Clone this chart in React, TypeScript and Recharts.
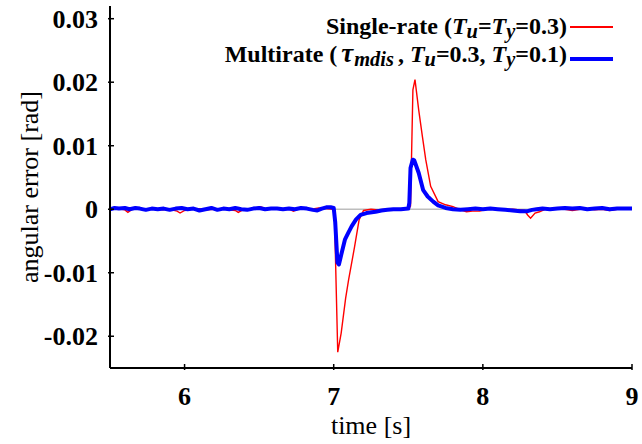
import React from 'react';
import { LineChart, Line, XAxis, YAxis, ReferenceLine } from 'recharts';

// time [s] and angular error [rad]
const singleTime = [
  5.5, 5.55, 5.6, 5.62, 5.65, 5.7, 5.75, 5.8, 5.85, 5.9, 5.95, 5.97, 6.0, 6.05, 6.1, 6.15, 6.2, 6.25, 6.3, 6.34,
  6.36, 6.39, 6.45, 6.51, 6.55, 6.6, 6.65, 6.7, 6.73, 6.76, 6.8, 6.85, 6.9, 6.95, 7.0, 7.005, 7.027, 7.05, 7.08,
  7.1, 7.14, 7.17, 7.2, 7.25, 7.3, 7.35, 7.4, 7.45, 7.5, 7.515, 7.531, 7.545, 7.57, 7.595, 7.617, 7.65, 7.7, 7.75,
  7.8, 7.85, 7.89, 7.93, 7.98, 8.02, 8.1, 8.15, 8.2, 8.25, 8.28, 8.3, 8.32, 8.35, 8.38, 8.42, 8.5, 8.55, 8.6, 8.65,
  8.7, 8.75, 8.8, 8.85, 8.9, 8.95, 9.0,
];
const singleError = [
  0.0, 0.0001, -0.0001, -0.0005, 0.0, 0.0001, 0.0, 0.0001, -0.0001, 0.0, -0.0003, -0.0006, -0.0002, 0.0, 0.0001,
  -0.0001, 0.0, 0.0001, -0.0001, -0.0002, -0.0005, -0.0001, 0.0, 0.0004, 0.0, 0.0001, -0.0001, 0.0, -0.0003, 0.0,
  0.0001, 0.0, 0.0002, 0.0001, 0.0, -0.001, -0.0225, -0.0195, -0.014, -0.0111, -0.0059, -0.0017, -0.0002, 0.0,
  -0.0001, 0.0, 0.0001, 0.0, 0.0, 0.0005, 0.0188, 0.0204, 0.0156, 0.0114, 0.0078, 0.0036, 0.0012, 0.0007, 0.0004,
  -0.0001, -0.0004, -0.0003, -0.0003, 0.0, 0.0, -0.0001, 0.0, -0.0001, -0.0002, -0.0009, -0.0014, -0.0006, -0.0004,
  0.0, 0.0001, 0.0, -0.0002, 0.0, 0.0001, -0.0001, 0.0, -0.0002, 0.0, 0.0001, 0.0,
];

const multiTime = [
  5.5, 5.53, 5.56, 5.6, 5.63, 5.67, 5.7, 5.74, 5.78, 5.82, 5.86, 5.9, 5.94, 5.98, 6.02, 6.06, 6.1, 6.14, 6.18, 6.22,
  6.26, 6.3, 6.34, 6.38, 6.42, 6.46, 6.5, 6.54, 6.58, 6.62, 6.66, 6.7, 6.74, 6.78, 6.82, 6.86, 6.89, 6.92, 6.95,
  6.98, 7.0, 7.01, 7.025, 7.035, 7.05, 7.075, 7.1, 7.12, 7.15, 7.18, 7.22, 7.28, 7.32, 7.36, 7.4, 7.45, 7.5, 7.507,
  7.515, 7.53, 7.54, 7.57, 7.6, 7.63, 7.667, 7.7, 7.75, 7.8, 7.85, 7.9, 7.95, 8.0, 8.05, 8.1, 8.15, 8.2, 8.25, 8.3,
  8.33, 8.36, 8.4, 8.45, 8.5, 8.55, 8.6, 8.65, 8.7, 8.75, 8.8, 8.85, 8.9, 8.95, 9.0,
];
const multiError = [
  0.0, 0.0002, 0.0001, 0.0002, 0.0, 0.0002, 0.0001, -0.0001, 0.0001, 0.0, 0.0001, -0.0001, 0.0001, 0.0002, 0.0,
  0.0001, -0.0002, 0.0, 0.0002, -0.0001, 0.0001, 0.0, 0.0002, 0.0, -0.0001, 0.0001, 0.0002, 0.0, 0.0001, 0.0001,
  0.0, 0.0001, 0.0, 0.0002, 0.0001, -0.0001, -0.0002, 0.0001, 0.0003, 0.0003, 0.0002, -0.002, -0.0084, -0.0087,
  -0.0072, -0.0048, -0.0036, -0.0027, -0.0016, -0.0009, -0.0006, -0.0004, -0.0002, -0.0001, 0.0, 0.0, 0.0001,
  0.001, 0.0065, 0.0078, 0.0077, 0.0057, 0.003, 0.002, 0.0012, 0.0006, 0.0002, 0.0, -0.0001, 0.0, 0.0001, 0.0,
  0.0001, 0.0, -0.0001, -0.0002, -0.0003, -0.0003, -0.0001, 0.0, 0.0001, 0.0, 0.0001, 0.0002, 0.0001, 0.0002, 0.0,
  0.0001, 0.0002, 0.0, 0.0001, 0.0001, 0.0001,
];

const timeTicks = [6, 7, 8, 9];
const errorTicks = [-0.02, -0.01, 0, 0.01, 0.02, 0.03];

const singleData = singleTime.map((t, i) => ({ t, v: singleError[i] }));
const multiData = multiTime.map((t, i) => ({ t, v: multiError[i] }));

const FONT = '"Liberation Serif", "Times New Roman", serif';
const TICK_LEN = 6;

function BottomTick({ x, y, payload }: any) {
  return (
    <g>
      <line x1={x} y1={y} x2={x} y2={y - TICK_LEN} stroke="#000" strokeWidth={1.5} />
      <text x={x} y={y + 35} textAnchor="middle" fontFamily={FONT} fontSize={26} fontWeight="bold" fill="#000">
        {payload.value}
      </text>
    </g>
  );
}

function LeftTick({ x, y, payload }: any) {
  return (
    <g>
      <line x1={x} y1={y} x2={x + TICK_LEN} y2={y} stroke="#000" strokeWidth={1.5} />
      <text x={x - 10} y={y + 9} textAnchor="end" fontFamily={FONT} fontSize={26} fontWeight="bold" fill="#000">
        {payload.value}
      </text>
    </g>
  );
}

function TopTick({ x, y }: any) {
  return <line x1={x} y1={y} x2={x} y2={y + TICK_LEN} stroke="#000" strokeWidth={1.5} />;
}

function RightTick({ x, y }: any) {
  return <line x1={x} y1={y} x2={x - TICK_LEN} y2={y} stroke="#000" strokeWidth={1.5} />;
}

const axisLine = { stroke: '#000', strokeWidth: 2 };

const sub = { fontSize: '0.85em', position: 'relative' as const, top: '0.22em' };

const rowStyle = {
  position: 'absolute' as const,
  right: 75,
  height: 28,
  lineHeight: '28px',
  whiteSpace: 'nowrap' as const,
  fontFamily: FONT,
  fontSize: 24,
  fontWeight: 'bold' as const,
  color: '#000',
};

export default function App() {
  return (
    <div style={{ position: 'absolute', left: 0, top: 0, width: 642, height: 444, background: '#fff' }}>
      <LineChart width={642} height={444} margin={{ top: 6, right: 10, bottom: 0, left: 0 }}>
        <XAxis
          dataKey="t"
          type="number"
          domain={[5.5, 9]}
          ticks={timeTicks}
          height={76}
          tickSize={0}
          tickLine={false}
          tick={BottomTick}
          axisLine={axisLine}
          allowDataOverflow
          label={{
            content: ({ viewBox }: any) => (
              <text
                x={viewBox.x + viewBox.width / 2}
                y={viewBox.y + 66}
                textAnchor="middle"
                fontFamily={FONT}
                fontSize={26}
                fill="#000"
              >
                time [s]
              </text>
            ),
          }}
        />
        <XAxis
          xAxisId="top"
          orientation="top"
          type="number"
          domain={[5.5, 9]}
          ticks={timeTicks}
          height={0}
          tickSize={0}
          tickLine={false}
          tick={TopTick}
          axisLine={axisLine}
          allowDataOverflow
        />
        <YAxis
          type="number"
          domain={[-0.025, 0.032]}
          ticks={errorTicks}
          width={110}
          tickSize={0}
          tickLine={false}
          tick={LeftTick}
          axisLine={axisLine}
          allowDataOverflow
          label={{
            content: ({ viewBox }: any) => {
              const cx = 29;
              const cy = viewBox.y + viewBox.height / 2;
              return (
                <text
                  x={cx}
                  y={cy}
                  transform={`rotate(-90, ${cx}, ${cy})`}
                  textAnchor="middle"
                  dominantBaseline="central"
                  fontFamily={FONT}
                  fontSize={26}
                  fill="#000"
                >
                  angular error [rad]
                </text>
              );
            },
          }}
        />
        <YAxis
          yAxisId="right"
          orientation="right"
          type="number"
          domain={[-0.025, 0.032]}
          ticks={errorTicks}
          width={0}
          tickSize={0}
          tickLine={false}
          tick={RightTick}
          axisLine={axisLine}
          allowDataOverflow
        />
        <ReferenceLine y={0} stroke="#bdbdbd" strokeWidth={1.5} />
        <Line
          data={singleData}
          dataKey="v"
          type="linear"
          stroke="#ff0000"
          strokeWidth={1.4}
          dot={false}
          isAnimationActive={false}
        />
        <Line
          data={multiData}
          dataKey="v"
          type="linear"
          stroke="#0000ff"
          strokeWidth={4}
          dot={false}
          strokeLinejoin="round"
          isAnimationActive={false}
        />
      </LineChart>
      {/* legend */}
      <div style={{ ...rowStyle, top: 12 }}>
        Single-rate (<i>T</i>
        <i style={sub}>u</i>=<i>T</i>
        <i style={sub}>y</i>=0.3)
      </div>
      <div style={{ ...rowStyle, top: 39 }}>
        Multirate (<i style={{ fontSize: '1.12em', marginLeft: 4 }}>τ</i>
        <i style={{ ...sub, marginLeft: 1 }}>mdis</i>
        <span style={{ marginLeft: 4 }}>, </span>
        <i>T</i>
        <i style={sub}>u</i>=0.3, <i>T</i>
        <i style={sub}>y</i>=0.1)
      </div>
      <div style={{ position: 'absolute', left: 570, top: 26, width: 43, height: 1.5, background: '#ff0000' }} />
      <div style={{ position: 'absolute', left: 570, top: 57, width: 43, height: 4, background: '#0000ff' }} />
    </div>
  );
}
